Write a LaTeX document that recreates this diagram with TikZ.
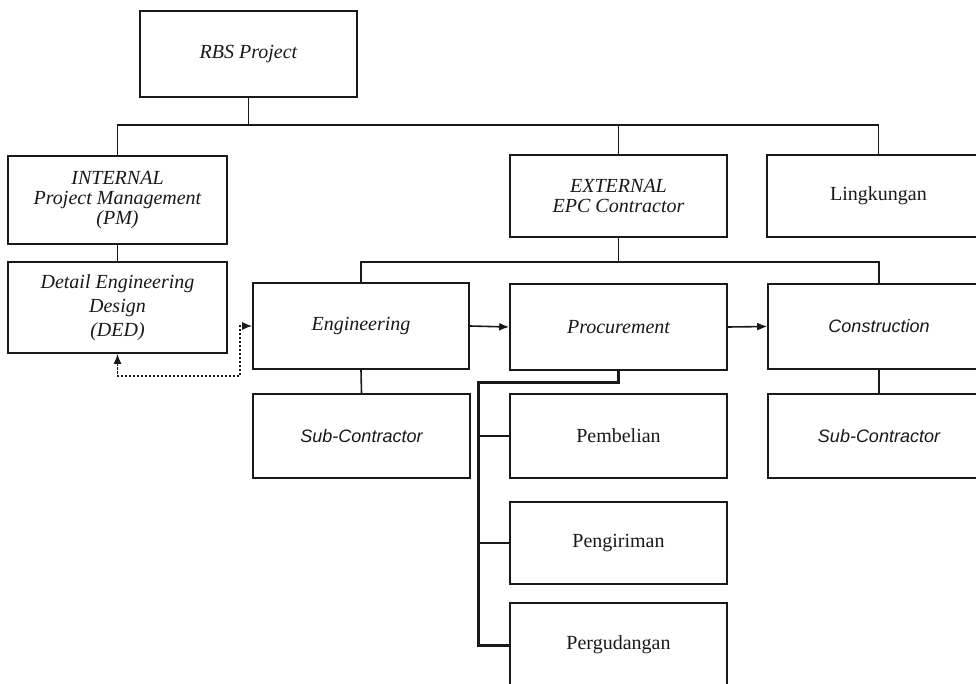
\documentclass[tikz,border=0pt]{standalone}
\usepackage{fontspec}
\setmainfont{Liberation Serif}
\newfontfamily\labelsans{Liberation Sans}
\usetikzlibrary{arrows.meta,calc}

\definecolor{ink}{RGB}{25,25,25}

\tikzset{
  box/.style={draw=ink, line width=1.6pt, rectangle, inner sep=0pt,
    minimum width=217pt, minimum height=85pt, align=center,
    font=\fontsize{20}{20}\selectfont\itshape, text=ink},
  plainbox/.style={box, font=\fontsize{20}{20}\selectfont},
  sansbox/.style={box, font=\fontsize{18}{20}\labelsans\itshape},
  wire/.style={draw=ink, line width=1.6pt},
  heavywire/.style={draw=ink, line width=3pt},
  flow/.style={wire, -{Latex[length=10pt,width=8pt]}},
  feedback/.style={draw=ink, line width=1.5pt, dash pattern=on 2.5pt off 1.5pt,
    {Latex[length=10pt,width=8pt]}-{Latex[length=10pt,width=8pt]}}
}

\begin{document}
\begin{tikzpicture}[x=1pt,y=-1pt]
  \useasboundingbox (0,0) rectangle (976,684);
  \fill[white] (0,0) rectangle (976,684);
  \clip (0,0) rectangle (976,684);

  % top level
  \node[box, minimum height=86pt] (rbs) at (248.5,54) {RBS Project};

  % second level
  \node[box, minimum width=219pt, minimum height=88pt,
        font=\fontsize{20}{20}\selectfont\itshape] (int) at (117.5,200)
        {INTERNAL\\Project Management\\(PM)};
  \node[box, minimum width=219pt, minimum height=91pt,
        font=\fontsize{20}{24}\selectfont\itshape] (ded) at (117.5,307.5)
        {Detail Engineering\\Design\\(DED)};
  \node[box, minimum height=82pt,
        font=\fontsize{20}{20}\selectfont\itshape] (ext) at (618.5,196)
        {EXTERNAL\\EPC Contractor};
  \node[plainbox, minimum width=223pt, minimum height=82pt] (ling) at (878.5,196) {Lingkungan};

  % EPC phases
  \node[box, minimum width=216pt, minimum height=86pt] (eng) at (361,326) {Engineering};
  \node[box, minimum height=86pt] (proc) at (618.5,327) {Procurement};
  \node[sansbox, minimum width=222pt, minimum height=85pt] (con) at (879,326.5) {Construction};

  % sub-contractors
  \node[sansbox, minimum height=84pt] (subeng) at (361.5,436) {Sub-Contractor};
  \node[sansbox, minimum width=222pt, minimum height=84pt] (subcon) at (879,436) {Sub-Contractor};

  % procurement tasks
  \node[plainbox, minimum height=84pt] (pemb) at (618.5,436) {Pembelian};
  \node[plainbox, minimum height=82pt] (peng) at (618.5,543) {Pengiriman};
  \node[plainbox, minimum height=84pt] (perg) at (618.5,645) {Pergudangan};

  % bus coordinates
  \coordinate (bus) at (0,125);
  \coordinate (epcbus) at (0,262);
  \coordinate (procbus) at (478,382);
  \coordinate (dedloop) at (240,376);

  % connectors from the root
  \draw[wire] (rbs.south) -- (rbs.south |- bus);
  \draw[wire] (int.north) -- (int.north |- bus) -| (ling.north);
  \draw[wire] (ext.north) -- (ext.north |- bus);
  \draw[wire] (int.south) -- (ded.north);

  % EPC branch
  \draw[wire] (ext.south) -- (ext.south |- epcbus);
  \draw[wire] (eng.north) -- (eng.north |- epcbus) -| (con.north);
  \draw[flow] (eng.east) -- (proc.west);
  \draw[flow] (proc.east) -- (con.west);
  \draw[wire] (eng.south) -- (subeng.north);
  \draw[wire] (con.south) -- (subcon.north);

  % procurement tasks
  \draw[heavywire] (proc.south) -- (proc.south |- procbus) -- (procbus) |- (perg.west);
  \draw[wire] (pemb.west) -- (pemb.west -| procbus);
  \draw[wire] (peng.west) -- (peng.west -| procbus);

  % feedback between design and engineering
  \draw[feedback] (ded.south) -- (ded.south |- dedloop) -- (dedloop) |- (eng.west);
\end{tikzpicture}
\end{document}
